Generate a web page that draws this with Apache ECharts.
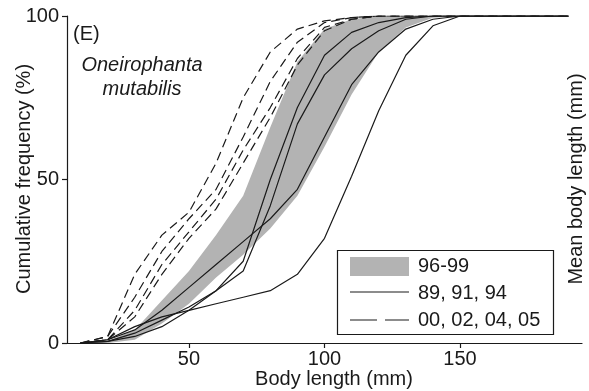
<!DOCTYPE html>
<html>
<head>
<meta charset="utf-8">
<script src="https://cdn.jsdelivr.net/npm/echarts@6/dist/echarts.min.js"></script>
<style>html,body{margin:0;padding:0;background:#fff}#c{width:589px;height:391px}</style>
</head>
<body>
<div id="c"></div>
<script>
// Body length (mm) sample points
const xs = [10,20,30,40,50,60,70,80,90,100,110,120,130,140,150,160,170,180,190];
// Solid lines: 89, 91, 94 (and one more track inside band)
const solidA = [0,1,5,8,10,12,14,16,21,32,51,71,88,97,100,100,100,100,100];
const solidB = [0,0.5,2,5,10,16,25,50,72,88,95,98,99.5,100,100,100,100,100,100];
const solidC = [0,0.5,3,7,11,16,22,42,67,82,90,95.5,99,100,100,100,100,100,100];
// Dashed lines: 00, 02, 04, 05
const dashA = [0,2,21,33,40,55,75,89,96,98.5,99.5,100,100,100,100,100,100,100,100];
const dashB = [0,2,14,28,38,47,63,80,92,98,99.5,100,100,100,100,100,100,100,100];
const dashC = [0,1,10,24,34,44,59,72,87,96.5,99,100,100,100,100,100,100,100,100];
const dashD = [0,1,8,21,32,41,55,69,85,95.5,99,100,100,100,100,100,100,100,100];
// 96-99 envelope
const bandUpX = [15,20,30,40,50,60,70,80,90,100,110,120,190];
const bandUpY = [0,0.5,4,13,22,33,45,66,86,96,99,100,100];
const bandLoX = [15,20,30,40,50,60,70,80,90,100,110,120,130,140,150,190];
const bandLoY = [0,0,1,6,12,20,27,35,45,60,76,89,96.5,99.5,100,100];
// extra solid line near band lower edge
const solidD = [0,1,4,10,17,24,31,38,47,63,79,89,96,99,100,100,100,100,100];
const xTicks = [50,100,150];

const FONT = 'Liberation Sans, Arial, sans-serif';
const INK = '#1a1a1a';
const GRAY = '#b3b3b3';

function pairs(ys){ return xs.map((x,i)=>[x, ys[i]]); }
function lineSeries(ys, dashed){
  return {type:'line', data:pairs(ys), symbol:'none', silent:true, z:3,
    lineStyle:{color:INK, width:1.2, type: dashed ? [9,5] : 'solid'}};
}

const chart = echarts.init(document.getElementById('c'), null, {renderer:'canvas'});
chart.setOption({
  animation:false,
  backgroundColor:'#fff',
  grid:{left:67, right:7, top:16, bottom:48, containLabel:false},
  xAxis:{type:'value', min:5, max:195,
    axisLine:{show:true, onZero:false, lineStyle:{color:INK, width:1.2}},
    axisTick:{show:true, customValues:xTicks, length:5, lineStyle:{color:INK, width:1.2}},
    axisLabel:{customValues:xTicks, fontSize:20, fontFamily:FONT, color:INK, margin:6},
    splitLine:{show:false}},
  yAxis:{type:'value', min:0, max:100, interval:50,
    axisLine:{show:true, lineStyle:{color:INK, width:1.2}},
    axisTick:{show:true, length:5, lineStyle:{color:INK, width:1.2}},
    axisLabel:{fontSize:20, fontFamily:FONT, color:INK, margin:8},
    splitLine:{show:false}},
  series:[
    {type:'custom', coordinateSystem:'cartesian2d', data:[[100,50]], silent:true, z:1,
      renderItem:function(params, api){
        const pts = [];
        for (let i=0;i<bandUpX.length;i++) pts.push(api.coord([bandUpX[i], bandUpY[i]]));
        for (let i=bandLoX.length-1;i>=0;i--) pts.push(api.coord([bandLoX[i], bandLoY[i]]));
        return {type:'polygon', shape:{points:pts}, style:{fill:GRAY, stroke:null}};
      }},
    lineSeries(solidA,false), lineSeries(solidB,false), lineSeries(solidC,false), lineSeries(solidD,false),
    lineSeries(dashA,true), lineSeries(dashB,true), lineSeries(dashC,true), lineSeries(dashD,true)
  ],
  graphic:[
    {type:'text', left:73, top:24, style:{text:'(E)', font:'20px '+FONT, fill:INK}},
    {type:'text', x:142, y:65, style:{text:'Oneirophanta', font:'italic 20px '+FONT, fill:INK, align:'center', verticalAlign:'middle'}},
    {type:'text', x:142, y:89, style:{text:'mutabilis', font:'italic 20px '+FONT, fill:INK, align:'center', verticalAlign:'middle'}},
    {type:'text', x:24, y:179, rotation:Math.PI/2, style:{text:'Cumulative frequency (%)', font:'20px '+FONT, fill:INK, align:'center', verticalAlign:'middle'}},
    {type:'text', x:576, y:179, rotation:Math.PI/2, style:{text:'Mean body length (mm)', font:'20px '+FONT, fill:INK, align:'center', verticalAlign:'middle'}},
    {type:'text', x:334, y:379, style:{text:'Body length (mm)', font:'20px '+FONT, fill:INK, align:'center', verticalAlign:'middle'}},
    // legend
    {type:'rect', shape:{x:337.5, y:250.5, width:216, height:84}, style:{fill:'#fff', stroke:INK, lineWidth:1.2}, z:10},
    {type:'rect', shape:{x:350, y:257, width:59, height:19}, style:{fill:GRAY}, z:11},
    {type:'line', shape:{x1:350, y1:292, x2:409, y2:292}, style:{stroke:INK, lineWidth:1.2}, z:11},
    {type:'line', shape:{x1:350, y1:320, x2:409, y2:320}, style:{stroke:INK, lineWidth:1.2, lineDash:[27,8]}, z:11},
    {type:'text', x:418, y:266, style:{text:'96-99', font:'20px '+FONT, fill:INK, verticalAlign:'middle'}, z:11},
    {type:'text', x:418, y:293, style:{text:'89, 91, 94', font:'20px '+FONT, fill:INK, verticalAlign:'middle'}, z:11},
    {type:'text', x:418, y:320, style:{text:'00, 02, 04, 05', font:'20px '+FONT, fill:INK, verticalAlign:'middle'}, z:11}
  ]
});
</script>
</body>
</html>
